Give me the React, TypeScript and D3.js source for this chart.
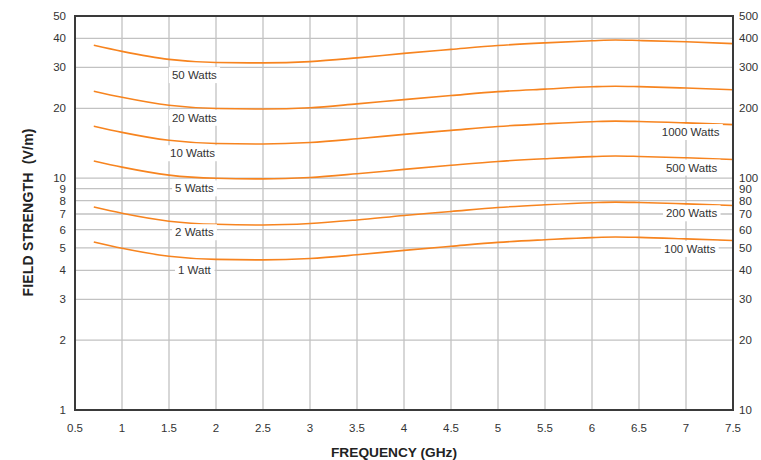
import React, { useEffect, useRef } from "react";
import * as d3 from "d3";

const freqs = [0.7, 1, 1.5, 2, 2.5, 3, 3.5, 4, 4.5, 5, 5.5, 6, 6.25, 6.5, 7, 7.5];
const w1 = [5.3, 4.98, 4.6, 4.46, 4.44, 4.5, 4.67, 4.88, 5.08, 5.28, 5.42, 5.54, 5.57, 5.55, 5.47, 5.38];
const w2 = [7.5, 7.05, 6.52, 6.32, 6.28, 6.37, 6.6, 6.9, 7.18, 7.47, 7.67, 7.83, 7.88, 7.85, 7.74, 7.62];
const w5 = [11.85, 11.15, 10.3, 9.98, 9.92, 10.06, 10.44, 10.9, 11.36, 11.8, 12.12, 12.38, 12.45, 12.4, 12.23, 12.03];
const w10 = [16.75, 15.75, 14.55, 14.1, 14.03, 14.23, 14.77, 15.43, 16.06, 16.7, 17.14, 17.5, 17.6, 17.54, 17.3, 17.0];
const w20 = [23.7, 22.3, 20.6, 19.95, 19.85, 20.1, 20.9, 21.8, 22.7, 23.6, 24.2, 24.75, 24.9, 24.8, 24.45, 24.05];
const w50 = [37.4, 35.2, 32.5, 31.5, 31.4, 31.8, 33.0, 34.5, 35.9, 37.3, 38.3, 39.1, 39.4, 39.2, 38.7, 38.0];
const seriesList = [w1, w2, w5, w10, w20, w50];

const xTicks = [0.5, 1, 1.5, 2, 2.5, 3, 3.5, 4, 4.5, 5, 5.5, 6, 6.5, 7, 7.5];
const leftTicks = [1, 2, 3, 4, 5, 6, 7, 8, 9, 10, 20, 30, 40, 50];
const rightTicks = [10, 20, 30, 40, 50, 60, 70, 80, 90, 100, 200, 300, 400, 500];

const labelTexts = ["50 Watts", "20 Watts", "10 Watts", "5 Watts", "2 Watts", "1 Watt", "1000 Watts", "500 Watts", "200 Watts", "100 Watts"];
const labelFreqs = [1.77, 1.77, 1.75, 1.77, 1.77, 1.77, 7.05, 7.06, 7.06, 7.04];
const labelValues = [27.8, 18.2, 12.8, 9.03, 5.84, 4.0, 15.8, 11.1, 7.05, 4.95];

export default function App() {
  const ref = useRef<SVGSVGElement>(null);
  useEffect(() => {
    const svg = d3.select(ref.current);
    svg.selectAll("*").remove();
    const L = 75, R = 733, T = 16, B = 410;
    const x = d3.scaleLinear().domain([0.5, 7.5]).range([L, R]);
    const y = d3.scaleLog().domain([1, 50]).range([B, T]);
    const yR = d3.scaleLog().domain([10, 500]).range([B, T]);
    const font = "Helvetica, Arial, 'Liberation Sans', sans-serif";
    const grid = svg.append("g");
    xTicks.forEach((t) => {
      grid.append("line").attr("x1", x(t)).attr("x2", x(t)).attr("y1", T).attr("y2", B)
        .attr("stroke", "#c2c2c2").attr("stroke-width", 1.3);
    });
    leftTicks.forEach((t) => {
      grid.append("line").attr("x1", L).attr("x2", R).attr("y1", y(t)).attr("y2", y(t))
        .attr("stroke", "#c2c2c2").attr("stroke-width", 1.3);
    });
    const line = d3.line<number>().x((_, i) => x(freqs[i])).y((d) => y(d)).curve(d3.curveMonotoneX);
    seriesList.forEach((s) => {
      svg.append("path").attr("d", line(s) as string).attr("fill", "none")
        .attr("stroke", "#f7841f").attr("stroke-width", 1.6);
    });
    labelTexts.forEach((t, i) => {
      const g = svg.append("g");
      const rect = g.append("rect").attr("fill", "white");
      const tx = g.append("text").attr("x", x(labelFreqs[i])).attr("y", y(labelValues[i]))
        .attr("text-anchor", "middle").attr("dominant-baseline", "central")
        .attr("font-family", font).attr("font-size", 11.5).attr("fill", "#333").text(t);
      const bb = (tx.node() as SVGTextElement).getBBox();
      rect.attr("x", bb.x - 3).attr("y", bb.y - 2).attr("width", bb.width + 6).attr("height", bb.height + 4);
    });
    svg.append("rect").attr("x", L).attr("y", T).attr("width", R - L).attr("height", B - T)
      .attr("fill", "none").attr("stroke", "#3a3a3a").attr("stroke-width", 2);
    leftTicks.forEach((t) => {
      svg.append("text").attr("x", 66).attr("y", y(t)).attr("text-anchor", "end")
        .attr("dominant-baseline", "central").attr("font-family", font).attr("font-size", 11.5)
        .attr("fill", "#333").text(String(t));
    });
    rightTicks.forEach((t) => {
      svg.append("text").attr("x", 739).attr("y", yR(t)).attr("text-anchor", "start")
        .attr("dominant-baseline", "central").attr("font-family", font).attr("font-size", 11.5)
        .attr("fill", "#333").text(String(t));
    });
    xTicks.forEach((t) => {
      svg.append("text").attr("x", x(t)).attr("y", 428).attr("text-anchor", "middle")
        .attr("dominant-baseline", "central").attr("font-family", font).attr("font-size", 11.5)
        .attr("fill", "#333").text(String(t));
    });
    svg.append("text").attr("x", 394).attr("y", 452).attr("text-anchor", "middle")
      .attr("dominant-baseline", "central").attr("font-family", font).attr("font-size", 13.5)
      .attr("font-weight", "bold").attr("fill", "#222")
      .attr("textLength", 126).attr("lengthAdjust", "spacingAndGlyphs").text("FREQUENCY (GHz)");
    svg.append("text").attr("transform", "translate(28,212.5) rotate(-90)").attr("text-anchor", "middle")
      .attr("dominant-baseline", "central").attr("font-family", font).attr("font-size", 14)
      .attr("font-weight", "bold").attr("fill", "#222")
      .attr("textLength", 168).attr("lengthAdjust", "spacing")
      .style("white-space", "pre").text("FIELD STRENGTH  (V/m)");
  }, []);
  return (
    <svg ref={ref} width={761} height={460}
      style={{ position: "absolute", left: 0, top: 0, background: "white" }} />
  );
}
